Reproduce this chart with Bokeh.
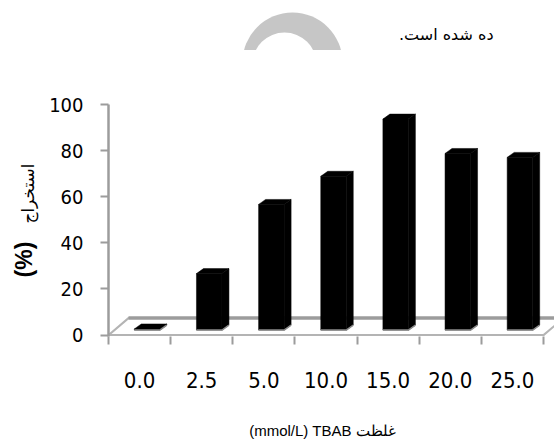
import numpy as np
from bokeh.plotting import figure
from bokeh.layouts import column
from bokeh.models import ColumnDataSource, FixedTicker, Label, Range1d
from bokeh.embed import file_html
from bokeh.resources import INLINE

# ---------------- data ----------------
categories = ["0.0", "2.5", "5.0", "10.0", "15.0", "20.0", "25.0"]
extraction = [0.5, 24.5, 54.5, 66.7, 91.5, 76.6, 74.9]
y_ticks = [0, 20, 40, 60, 80, 100]
x_title = "(mmol/L) TBAB غلظت"
y_title_pct = "(%)"
y_title_word = "استخراج"
top_text = "ده شده است.\u200F"

NARROW = "'Liberation Sans Narrow', 'Arial Narrow', 'DejaVu Sans Condensed', sans-serif"
SANS = "'Liberation Sans', Arial, sans-serif"
ARABIC = "'DejaVu Sans', sans-serif"

W = 554
TOP_H = 50
MAIN_H = 393
GRAY = "#9c9c9c"
FL, FR, FT, FB = 108, 554, 104, 336  # main frame in page pixels

# ---------------- top strip (page text + watermark arc) ----------------
top = figure(width=W, height=TOP_H, x_range=Range1d(FL, FR), y_range=Range1d(TOP_H, 0),
             output_backend="svg", toolbar_location=None,
             min_border_left=FL, min_border_right=0, min_border_top=0, min_border_bottom=0,
             x_axis_location=None, y_axis_location=None)
top.grid.visible = False
top.outline_line_color = None
top.circle(x=[292], y=[62], radius=50, fill_color="#c6c6c6", line_color=None)
top.circle(x=[284], y=[64], radius=32, fill_color="white", line_color=None)
top.add_layout(Label(x=493, y=34, text=top_text, text_align="right", text_baseline="middle",
                     text_font=ARABIC, text_font_size="16px", text_color="black"))

# ---------------- main chart ----------------
n = len(categories)
X0, X1 = -0.5, 6.677
Y0, Y1 = -0.6, 100
p = figure(width=W, height=MAIN_H, x_range=Range1d(X0, X1), y_range=Range1d(Y0, Y1),
           output_backend="svg", toolbar_location=None,
           min_border_left=FL, min_border_right=0, min_border_top=FT - TOP_H,
           min_border_bottom=TOP_H + MAIN_H - FB)
p.grid.visible = False
p.outline_line_color = None
p.background_fill_color = "white"

ppx = (FR - FL) / (X1 - X0)
ppy = (FB - FT) / (Y1 - Y0)
def dx(cx):
    return X0 + (cx - FL) / ppx
def dy(cy):
    return Y0 + (FB - cy) / ppy

# floor (3D base)
fdx, fdy = 20 / ppx, 17 / ppy
p.patch(x=[X0, n - 0.5, n - 0.5 + fdx, X0 + fdx], y=[0, 0, fdy, fdy],
        fill_color="white", line_color="#b4b4b4", line_width=2)
p.line(x=[X0 + fdx, n - 0.5 + fdx], y=[fdy, fdy], line_color=GRAY, line_width=3.5)

# bars
xs = np.arange(n, dtype=float)
vals = np.array(extraction, dtype=float)
shift, half = 7.5 / ppx, 12.75 / ppx
base = 5 / ppy
ddx, ddy = 7 / ppx, 5 / ppy
L = xs + shift - half
R = xs + shift + half
B = np.full(n, base)
T = base + vals

src = ColumnDataSource(dict(
    L=L, R=R, B=B, T=T,
    top_x=[[l, r, r + ddx, l + ddx] for l, r in zip(L, R)],
    top_y=[[t, t, t + ddy, t + ddy] for t in T],
    side_x=[[r, r + ddx, r + ddx, r] for r in R],
    side_y=[[b, b + ddy, t + ddy, t] for b, t in zip(B, T)],
    edge_x=[[l, r, r + ddx] for l, r in zip(L, R)],
    edge_y=[[b, b, b + ddy] for b in B],
))
p.patches(xs="side_x", ys="side_y", source=src, fill_color="black", line_color="black", line_width=0.5)
p.patches(xs="top_x", ys="top_y", source=src, fill_color="black", line_color="black", line_width=0.5)
p.quad(left="L", right="R", bottom="B", top="T", source=src, fill_color="black", line_color="black", line_width=0.5)
p.multi_line(xs="edge_x", ys="edge_y", source=src, line_color="#8a8a8a", line_width=1.5)

# x axis
xa = p.xaxis[0]
xa.ticker = FixedTicker(ticks=list(range(n)), minor_ticks=[i - 0.5 for i in range(n + 1)])
xa.major_label_overrides = {i: c for i, c in enumerate(categories)}
xa.axis_line_color = None
xa.major_tick_line_color = None
xa.major_tick_out = 0
xa.major_tick_in = 0
xa.minor_tick_line_color = GRAY
xa.minor_tick_line_width = 2
xa.minor_tick_out = 8
xa.minor_tick_in = 0
xa.major_label_standoff = 27
xa.major_label_text_font = NARROW
xa.major_label_text_font_size = "22px"
xa.major_label_text_color = "black"

# y axis
ya = p.yaxis[0]
ya.ticker = FixedTicker(ticks=y_ticks)
ya.axis_line_color = GRAY
ya.axis_line_width = 2.5
ya.major_tick_line_color = GRAY
ya.major_tick_line_width = 2
ya.major_tick_out = 8
ya.major_tick_in = 0
ya.minor_tick_line_color = None
ya.major_label_standoff = 17
ya.major_label_text_font = NARROW
ya.major_label_text_font_size = "20px"
ya.major_label_text_color = "black"

# axis titles (placed in side panels so they are not clipped to the frame)
p.add_layout(Label(x=dx(23), y=dy(259), text=y_title_pct, angle=np.pi / 2,
                   text_align="center", text_baseline="middle",
                   text_font=SANS, text_font_style="bold", text_font_size="23px", text_color="black"), "left")
p.add_layout(Label(x=dx(27), y=dy(193), text=y_title_word, angle=np.pi / 2,
                   text_align="center", text_baseline="middle",
                   text_font=ARABIC, text_font_size="17px", text_color="black"), "left")
p.add_layout(Label(x=dx(322), y=dy(430), text=x_title,
                   text_align="center", text_baseline="middle",
                   text_font=SANS, text_font_size="15px", text_color="black"), "below")

layout = column(top, p, spacing=0)
open("out.html", "w").write(file_html(layout, INLINE))
